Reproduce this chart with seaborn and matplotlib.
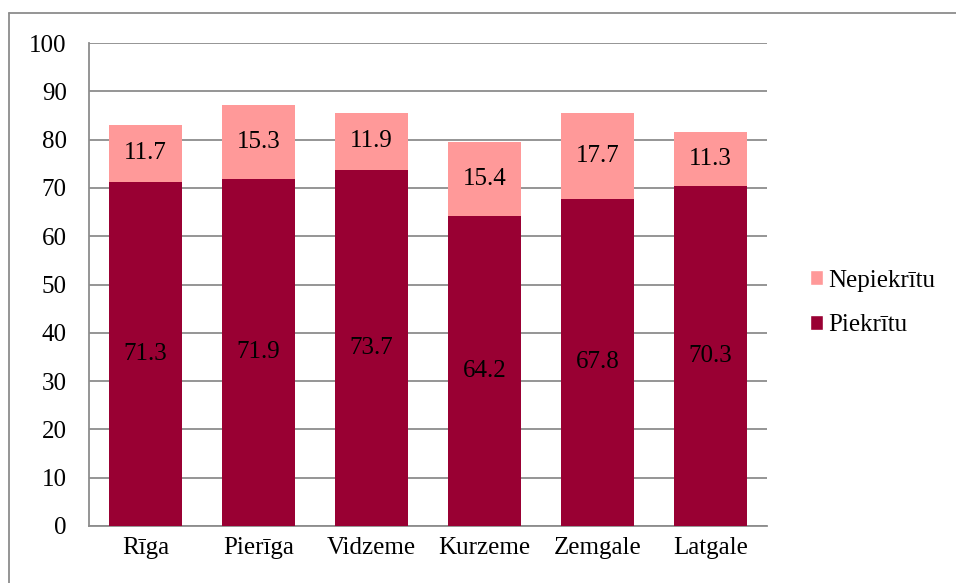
import pandas as pd
import matplotlib.pyplot as plt
import seaborn as sns
from matplotlib.lines import Line2D
from matplotlib.patches import Patch

regions = ['Rīga', 'Pierīga', 'Vidzeme', 'Kurzeme', 'Zemgale', 'Latgale']
piekritu = [71.3, 71.9, 73.7, 64.2, 67.8, 70.3]
nepiekritu = [11.7, 15.3, 11.9, 15.4, 17.7, 11.3]

dark = '#990033'
light = '#FF9999'

df = pd.DataFrame({'Region': regions, 'Piekrītu': piekritu, 'Nepiekrītu': nepiekritu})
df['Total'] = df['Piekrītu'] + df['Nepiekrītu']

sns.set_style('white')
plt.rcParams['font.family'] = ['Liberation Serif', 'DejaVu Serif']
plt.rcParams['text.color'] = 'black'
plt.rcParams['xtick.labelcolor'] = 'black'
plt.rcParams['ytick.labelcolor'] = 'black'

fig = plt.figure(figsize=(9.56, 5.83), dpi=100)
ax = fig.add_axes([89 / 956, 1 - 526 / 583, (767 - 89) / 956, (526 - 43) / 583])

# stacked: totals first (light), then the lower part on top (dark)
sns.barplot(data=df, x='Region', y='Total', color=light, width=0.65,
            saturation=1, linewidth=0, ax=ax, zorder=2)
sns.barplot(data=df, x='Region', y='Piekrītu', color=dark, width=0.65,
            saturation=1, linewidth=0, ax=ax, zorder=3)

for i, row in df.iterrows():
    ax.text(i, row['Piekrītu'] / 2, f"{row['Piekrītu']:.1f}", ha='center',
            va='center', fontsize=18, color='black', zorder=4)
    ax.text(i, row['Piekrītu'] + row['Nepiekrītu'] / 2, f"{row['Nepiekrītu']:.1f}",
            ha='center', va='center', fontsize=18, color='black', zorder=4)

ax.set_ylim(0, 100)
ax.set_xlim(-0.5, len(regions) - 0.5)
ax.set_yticks(range(0, 101, 10))
ax.yaxis.grid(True, color='#8c8c8c', linewidth=1.3)
ax.set_axisbelow(True)
ax.set_xlabel('')
ax.set_ylabel('')
ax.tick_params(axis='both', length=0, labelsize=18, labelcolor='black')
ax.tick_params(axis='y', pad=16)
ax.tick_params(axis='x', pad=8)
for side in ['top', 'right']:
    ax.spines[side].set_visible(False)
for side in ['left', 'bottom']:
    ax.spines[side].set_color('#8c8c8c')
    ax.spines[side].set_linewidth(1.3)

handles = [Patch(facecolor=light, label='Nepiekrītu'),
           Patch(facecolor=dark, label='Piekrītu')]
leg = fig.legend(handles=handles, loc='center left', bbox_to_anchor=(787 / 956, 1 - 303 / 583),
                 frameon=False, fontsize=18, handlelength=0.55, handleheight=0.55,
                 handletextpad=0.2, labelspacing=0.9)
for t in leg.get_texts():
    t.set_color('black')

# outer chart frame (only top and left edges visible in the crop)
fig.add_artist(Line2D([9 / 956, 1], [1 - 13 / 583, 1 - 13 / 583],
                      transform=fig.transFigure, color='#8c8c8c', linewidth=1.3))
fig.add_artist(Line2D([9 / 956, 9 / 956], [0, 1 - 13 / 583],
                      transform=fig.transFigure, color='#8c8c8c', linewidth=1.3))

fig.savefig('out.png', dpi=100)
